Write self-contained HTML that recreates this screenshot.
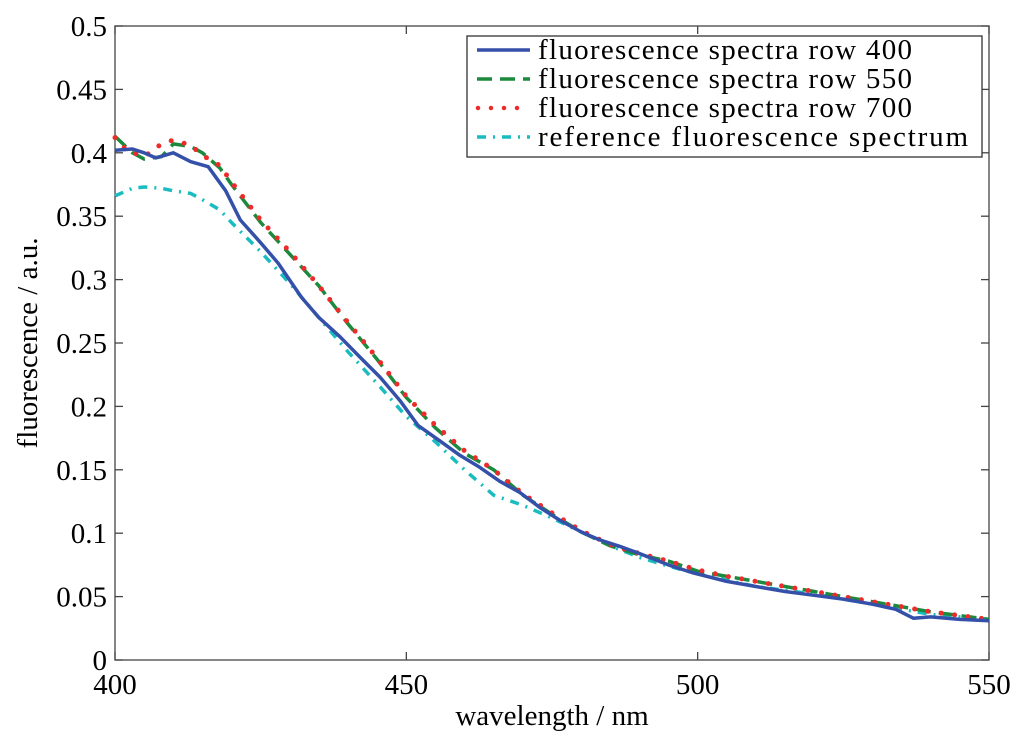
<!DOCTYPE html>
<html><head><meta charset="utf-8">
<style>
html,body{margin:0;padding:0;background:#fff;}
svg text{font-family:"Liberation Serif","DejaVu Serif",serif;fill:#000;}
</style></head>
<body>
<svg id="chart" width="1024" height="744" viewBox="0 0 1024 744" xmlns="http://www.w3.org/2000/svg" font-family="Liberation Serif, DejaVu Serif, serif">
<rect x="0" y="0" width="1024" height="744" fill="#fff"/>
<g id="axes"></g>
<g id="series"></g>
<g id="legend">
  <rect x="467" y="36" width="515" height="121" fill="#fff" stroke="#333" stroke-width="1.3"/>
  <line x1="477" y1="50" x2="530" y2="50" stroke="#3450a8" stroke-width="3.5"/>
  <text x="538" y="59" font-size="29" textLength="374">fluorescence spectra row 400</text>
  <line x1="477" y1="79" x2="530" y2="79" stroke="#1c8a3c" stroke-width="3.5" stroke-dasharray="15,8"/>
  <text x="538" y="88" font-size="29" textLength="374">fluorescence spectra row 550</text>
  <line x1="478" y1="108" x2="530" y2="108" stroke="#ee2b2b" stroke-width="4.5" stroke-linecap="round" stroke-dasharray="0,13"/>
  <text x="538" y="117" font-size="29" textLength="374">fluorescence spectra row 700</text>
  <line x1="477" y1="137" x2="530" y2="137" stroke="#1bbcbf" stroke-width="3.5" stroke-dasharray="9,7,2,7"/>
  <text x="538" y="146" font-size="29" textLength="430">reference fluorescence spectrum</text>
</g>
</svg>
<script>
const xTicks = [400, 450, 500, 550];
const yTicks = [0, 0.05, 0.1, 0.15, 0.2, 0.25, 0.3, 0.35, 0.4, 0.45, 0.5];
const yTickLabels = ["0","0.05","0.1","0.15","0.2","0.25","0.3","0.35","0.4","0.45","0.5"];

const blueX = [400,403,405,407,410,413,416,419,421.5,425,428,432,435,438.6,442,445.5,449,452,456,459,462.6,466,469.5,473,476.4,480,483,487,490,495,499,505,510,515,520,525,530,534,537,540,545,550];
const blueY = [0.402,0.403,0.400,0.396,0.400,0.393,0.389,0.370,0.347,0.329,0.313,0.286,0.270,0.255,0.239,0.223,0.204,0.185,0.172,0.162,0.152,0.141,0.132,0.120,0.110,0.101,0.095,0.089,0.084,0.075,0.069,0.062,0.058,0.054,0.051,0.048,0.044,0.040,0.033,0.034,0.032,0.031];

const greenX = [400,403,405,408,410,413,415,418,420,425,430,435,440,445,450,455,460,465,470,475,480,485,490,495,500,505,510,515,520,525,530,535,540,545,550];
const greenY = [0.413,0.400,0.395,0.397,0.407,0.405,0.400,0.388,0.375,0.345,0.320,0.295,0.265,0.237,0.207,0.183,0.163,0.150,0.130,0.115,0.101,0.090,0.083,0.078,0.070,0.066,0.062,0.058,0.054,0.050,0.046,0.042,0.038,0.035,0.032];

const redX = [400,402,405,408,410,413,415,418,420,425,430,435,440,445,450,455,460,465,470,475,480,485,490,495,500,505,510,515,520,525,530,535,540,545,550];
const redY = [0.412,0.402,0.397,0.407,0.410,0.406,0.398,0.390,0.377,0.347,0.322,0.295,0.266,0.238,0.208,0.185,0.165,0.150,0.131,0.116,0.102,0.091,0.084,0.078,0.071,0.066,0.062,0.058,0.054,0.050,0.046,0.042,0.038,0.035,0.032];

const refX = [400,403,405,408,410,413,415,418,420,425,430,435,440,445,450,455,460,465,470,475,480,485,490,495,500,505,510,515,520,525,530,535,540,545,550];
const refY = [0.366,0.372,0.373,0.372,0.370,0.368,0.363,0.355,0.345,0.322,0.297,0.270,0.243,0.218,0.192,0.172,0.150,0.130,0.122,0.112,0.101,0.090,0.081,0.074,0.068,0.063,0.058,0.055,0.052,0.048,0.044,0.040,0.036,0.034,0.032];

const L=115, R=989, T=26, B=660;
const xScale = v => L + (v-400)/150*(R-L);
const yScale = v => B - v/0.5*(B-T);
const NS="http://www.w3.org/2000/svg";
const axes=document.getElementById('axes');
const series=document.getElementById('series');
function mk(tag, attrs, parent){const e=document.createElementNS(NS,tag);for(const k in attrs)e.setAttribute(k,attrs[k]);parent.appendChild(e);return e;}

const frame=mk('rect',{x:L,y:T,width:R-L,height:B-T,fill:'none',stroke:'#444','stroke-width':1.3},axes);



xTicks.forEach(v=>{
  const x=xScale(v);
  mk('line',{x1:x,y1:B,x2:x,y2:B-8,stroke:'#444','stroke-width':1.3},axes);
  mk('line',{x1:x,y1:T,x2:x,y2:T+8,stroke:'#444','stroke-width':1.3},axes);
  const t=mk('text',{x:x,y:B+34,'font-size':29,'text-anchor':'middle'},axes);
  t.textContent=String(v);
  
  
});
yTicks.forEach((v,i)=>{
  const y=yScale(v);
  mk('line',{x1:L,y1:y,x2:L+8,y2:y,stroke:'#444','stroke-width':1.3},axes);
  mk('line',{x1:R,y1:y,x2:R-8,y2:y,stroke:'#444','stroke-width':1.3},axes);
  const t=mk('text',{x:L-8,y:y+10,'font-size':29,'text-anchor':'end'},axes);
  t.textContent=yTickLabels[i];
  
  
});
const xt=mk('text',{x:(L+R)/2,y:725,'font-size':29,'text-anchor':'middle'},axes);
xt.textContent='wavelength / nm';


const yt=mk('text',{x:0,y:0,'font-size':29,'text-anchor':'middle',transform:'translate(37,'+((T+B)/2)+') rotate(-90)'},axes);
yt.textContent='fluorescence / a.u.';



function line(xs,ys,style,name){
  const d=xs.map((v,i)=>(i?'L':'M')+xScale(v).toFixed(1)+','+yScale(ys[i]).toFixed(1)).join(' ');
  const p=mk('path',Object.assign({d:d,fill:'none'},style),series);
  
  
}
line(refX,refY,{stroke:'#1bbcbf','stroke-width':3.5,'stroke-dasharray':'9,7,2,7'},'reference-spectrum-line');
line(greenX,greenY,{stroke:'#1c8a3c','stroke-width':3.5,'stroke-dasharray':'15,8'},'row-550-line');
line(redX,redY,{stroke:'#ee2b2b','stroke-width':5,'stroke-linecap':'round','stroke-dasharray':'0,13.5'},'row-700-line');
line(blueX,blueY,{stroke:'#3450a8','stroke-width':3.5,'stroke-linejoin':'round'},'row-400-line');
</script>
</body></html>
